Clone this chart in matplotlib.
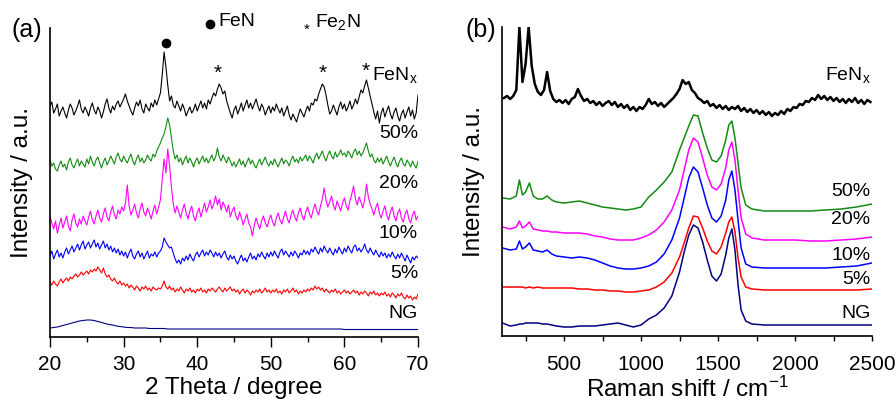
import numpy as np
import matplotlib
matplotlib.use("Agg")
import matplotlib.pyplot as plt
from matplotlib.ticker import MultipleLocator

plt.rcParams['font.family'] = ['Liberation Sans', 'DejaVu Sans']
plt.rcParams['mathtext.fontset'] = 'custom'
plt.rcParams['mathtext.rm'] = 'Liberation Sans'
plt.rcParams['mathtext.it'] = 'Liberation Sans:italic'

# ---------------- (a) XRD data, 2theta 20..70 every 0.25 deg ----------------
xrd_fenx = [231, 235, 224, 228, 233, 221, 226, 230, 224, 219, 227, 233, 229, 222, 226, 231, 237, 228, 224, 230,
            226, 221, 229, 234, 227, 223, 230, 226, 219, 225, 233, 238, 229, 224, 231, 227, 233, 236, 230, 234,
            238, 243, 236, 231, 226, 222, 229, 235, 231, 237, 228, 224, 233, 229, 226, 234, 230, 237, 232, 238,
            244, 262, 285, 270, 252, 236, 241, 232, 229, 236, 231, 226, 233, 228, 221, 226, 230, 224, 227, 233,
            226, 231, 236, 229, 234, 228, 237, 233, 239, 244, 241, 248, 253, 249, 243, 246, 236, 230, 224, 219,
            227, 231, 223, 228, 234, 226, 232, 237, 229, 234, 228, 233, 238, 231, 226, 233, 229, 222, 227, 231,
            224, 230, 226, 233, 228, 224, 229, 221, 226, 231, 222, 217, 223, 219, 215, 222, 228, 224, 220, 226,
            231, 226, 234, 232, 238, 236, 243, 248, 253, 250, 242, 232, 223, 226, 232, 227, 222, 230, 235, 228,
            233, 226, 230, 236, 228, 232, 238, 233, 240, 247, 244, 251, 257, 249, 241, 233, 225, 218, 226, 214,
            224, 229, 220, 226, 231, 223, 218, 225, 229, 221, 216, 223, 227, 219, 225, 230, 221, 227, 218, 224,
            242]

xrd_50 = [177, 171, 174, 168, 166, 172, 176, 170, 173, 167, 175, 179, 172, 169, 174, 178, 171, 176, 173, 170,
          178, 173, 181, 175, 171, 177, 180, 174, 169, 175, 179, 172, 176, 181, 177, 173, 180, 184, 178, 175,
          181, 177, 174, 179, 183, 176, 172, 178, 182, 175, 179, 174, 177, 182, 178, 176, 183, 180, 186, 190,
          194, 199, 203, 210, 219, 212, 199, 186, 178, 182, 175, 179, 172, 177, 181, 174, 179, 175, 170, 176,
          179, 173, 177, 181, 175, 179, 174, 178, 182, 176, 180, 189, 180, 176, 182, 178, 174, 180, 176, 171,
          175, 170, 174, 178, 172, 176, 170, 175, 179, 173, 177, 172, 169, 174, 178, 172, 176, 180, 174, 171,
          176, 172, 178, 174, 170, 175, 179, 173, 177, 175, 171, 177, 181, 175, 178, 174, 180, 176, 179, 182,
          176, 181, 178, 174, 180, 184, 178, 182, 186, 180, 176, 182, 186, 181, 178, 185, 180, 183, 187, 182,
          184, 180, 186, 183, 179, 185, 188, 182, 186, 181, 184, 189, 194, 186, 180, 183, 177, 174, 179, 175,
          179, 173, 177, 181, 175, 171, 176, 180, 174, 170, 176, 179, 173, 171, 177, 174, 170, 176, 172, 169,
          176]

xrd_20 = [121, 114, 108, 116, 104, 112, 119, 109, 115, 121, 111, 106, 117, 123, 114, 110, 118, 113, 121, 116,
          112, 120, 126, 117, 113, 121, 127, 119, 115, 123, 129, 120, 116, 125, 131, 122, 118, 127, 123, 130,
          126, 134, 152, 131, 122, 127, 133, 124, 119, 128, 134, 125, 121, 129, 124, 118, 126, 132, 123, 130,
          137, 158, 178, 164, 188, 171, 150, 133, 124, 131, 125, 119, 127, 133, 124, 118, 126, 131, 121, 116,
          124, 129, 120, 127, 134, 125, 130, 137, 128, 133, 141, 132, 138, 127, 135, 131, 125, 132, 120, 126,
          130, 121, 117, 125, 119, 112, 118, 123, 114, 110, 101, 112, 119, 113, 108, 116, 121, 114, 110, 117,
          122, 115, 111, 119, 124, 117, 113, 120, 126, 118, 114, 122, 127, 120, 116, 124, 129, 121, 117, 125,
          130, 123, 119, 127, 133, 126, 122, 131, 138, 149, 137, 130, 135, 141, 132, 127, 136, 131, 126, 134,
          139, 131, 127, 136, 143, 151, 138, 132, 140, 135, 129, 137, 153, 140, 133, 128, 122, 129, 134, 124,
          119, 126, 131, 122, 117, 125, 130, 121, 116, 124, 128, 119, 115, 123, 127, 118, 114, 122, 126, 117,
          121]

xrd_10 = [81, 86, 78, 83, 87, 80, 84, 79, 85, 89, 83, 87, 91, 85, 89, 93, 87, 92, 96, 88,
          92, 95, 89, 93, 97, 90, 94, 88, 92, 96, 89, 93, 87, 91, 85, 89, 84, 88, 82, 86,
          81, 85, 79, 84, 88, 81, 78, 83, 86, 80, 84, 78, 82, 86, 79, 83, 81, 85, 80, 84,
          86, 90, 99, 95, 92, 89, 90, 84, 78, 74, 77, 73, 79, 76, 81, 77, 83, 79, 76, 82,
          85, 80, 84, 87, 81, 85, 82, 87, 84, 80, 85, 81, 84, 79, 83, 86, 80, 77, 82, 78,
          81, 76, 73, 78, 82, 76, 79, 75, 80, 84, 78, 81, 77, 83, 80, 85, 81, 78, 84, 80,
          85, 81, 86, 82, 79, 85, 88, 82, 86, 83, 80, 85, 81, 86, 83, 79, 84, 82, 87, 83,
          86, 82, 88, 85, 90, 86, 83, 89, 85, 91, 87, 84, 89, 85, 82, 88, 84, 90, 86, 83,
          89, 85, 91, 87, 84, 90, 92, 86, 89, 85, 88, 93, 87, 84, 89, 85, 82, 87, 83, 80,
          85, 81, 84, 79, 83, 80, 85, 81, 78, 83, 79, 84, 80, 76, 82, 78, 74, 80, 77, 81,
          79]

xrd_5 = [55, 52, 56, 53, 51, 55, 58, 54, 57, 59, 56, 60, 58, 61, 63, 60, 62, 65, 62, 64,
         66, 63, 67, 65, 68, 66, 70, 67, 64, 69, 63, 60, 62, 58, 56, 59, 55, 53, 56, 52,
         54, 51, 53, 49, 52, 50, 47, 51, 49, 46, 50, 48, 51, 47, 49, 46, 50, 48, 47, 49,
         48, 51, 56, 50, 48, 51, 47, 49, 45, 48, 46, 50, 47, 44, 48, 46, 49, 45, 47, 44,
         48, 46, 49, 45, 47, 44, 48, 46, 49, 47, 45, 48, 50, 47, 45, 49, 46, 48, 50, 46,
         48, 45, 47, 43, 46, 48, 44, 47, 45, 42, 46, 44, 47, 45, 48, 44, 46, 49, 45, 47,
         44, 47, 45, 48, 44, 46, 43, 47, 45, 48, 44, 46, 49, 45, 47, 43, 46, 44, 47, 45,
         48, 46, 49, 47, 51, 48, 50, 47, 49, 45, 48, 46, 44, 47, 45, 48, 44, 46, 43, 45,
         47, 44, 46, 43, 45, 47, 44, 46, 42, 45, 43, 46, 44, 41, 45, 43, 46, 42, 44, 41,
         44, 42, 45, 41, 43, 40, 44, 42, 39, 43, 41, 44, 40, 38, 42, 39, 41, 37, 40, 38,
         43]

# NG sampled every 0.5 deg
xrd_ng = [9, 9.5, 10, 11, 12, 13, 14, 15, 16, 16.5,
          17, 17, 16.5, 15.5, 14.5, 13.5, 12.5, 12, 11, 10.5,
          10, 9.5, 9.5, 9, 9, 9, 9, 8.5, 8.5, 8.5,
          8.5, 8.5, 8, 8, 8, 8, 8, 8, 8, 8,
          8, 8, 8, 8, 8, 8, 8, 8, 8, 8,
          8, 8, 8, 8, 8, 8, 8, 8, 8, 8,
          8, 8, 8, 8, 8, 8, 8, 8, 8, 8,
          8, 8, 8, 8, 8, 8, 8, 8, 8, 8,
          7.5, 7.5, 7.5, 7.5, 7.5, 7.5, 7.5, 7.5, 7.5, 7.5,
          7.5, 7.5, 7.5, 7.5, 7.5, 7.5, 7.5, 7.5, 7.5, 7.5, 7.5]

xrd_series = [xrd_fenx, xrd_50, xrd_20, xrd_10, xrd_5, xrd_ng]
sample_labels = ['FeN$_\\mathregular{x}$', '50%', '20%', '10%', '5%', 'NG']
colors = ['#000000', '#138a13', '#ff00ff', '#0000ff', '#ff0000', '#000080']
xrd_label_y = [262, 204, 154, 104, 64, 24]

# peak markers (a)
fen_peak = [(35.7, 294)]
fe2n_peaks = [(42.8, 264), (57.1, 264), (62.9, 266)]

# ---------------- (b) Raman data ----------------
# FeNx sampled every 20 cm-1 from 110 to 2490
raman_fenx = [238, 240, 237, 240, 246, 309, 254, 272, 309, 270, 252, 244, 241, 246, 264, 245, 237, 234, 236, 233,
              236, 232, 237, 239, 247, 240, 235, 237, 233, 235, 231, 234, 230, 233, 235, 231, 234, 229, 232, 228,
              231, 226, 229, 225, 229, 227, 231, 237, 232, 234, 230, 233, 229, 232, 235, 238, 242, 247, 256, 252,
              254, 246, 243, 238, 236, 233, 235, 230, 232, 228, 231, 227, 230, 226, 229, 227, 230, 225, 228, 224,
              227, 223, 226, 222, 225, 221, 224, 220, 223, 221, 225, 222, 227, 225, 229, 228, 232, 231, 235, 234,
              238, 236, 241, 237, 240, 236, 239, 235, 238, 234, 237, 233, 237, 234, 238, 233, 236, 232, 236, 234]

raman_x = [100, 150, 190, 210, 230, 250, 275, 300, 330, 360, 390, 420, 450, 500,
           550, 600, 650, 700, 750, 800, 850, 900, 950, 1000, 1050, 1100, 1150,
           1200, 1250, 1280, 1310, 1340, 1370, 1400, 1430, 1460, 1490, 1520, 1550,
           1570, 1590, 1610, 1630, 1650, 1680, 1720, 1800, 1900, 2000, 2100, 2200,
           2300, 2400, 2500]

raman_50 = [138, 137, 140, 156, 141, 144, 153, 140, 137, 137, 140, 136, 134, 133,
            134, 135, 133, 131, 129, 128, 127, 126, 127, 129, 139, 146, 154,
            164, 186, 198, 210, 221, 220, 203, 188, 176, 174, 180, 196,
            211, 215, 198, 173, 148, 131, 127, 125, 125, 125, 125, 126,
            127, 129, 132]

raman_20 = [109, 107, 109, 115, 108, 110, 114, 107, 106, 105, 105, 104, 104, 103,
            103, 103, 102, 100, 99, 97, 96, 96, 96, 98, 101, 106, 114,
            126, 146, 166, 186, 198, 194, 178, 161, 149, 146, 152, 168,
            186, 194, 176, 146, 118, 102, 98, 96, 96, 96, 95, 95,
            96, 97, 99]

raman_10 = [88, 86, 87, 95, 87, 89, 93, 86, 85, 84, 86, 82, 80, 79,
            78, 79, 78, 76, 73, 70, 68, 67, 67, 68, 70, 74, 82,
            96, 118, 138, 158, 169, 164, 148, 131, 118, 114, 120, 136,
            156, 165, 146, 116, 88, 72, 69, 68, 68, 68, 68, 68,
            69, 70, 73]

raman_5 = [49, 49, 49, 49, 49, 48, 49, 48, 49, 48, 48, 48, 48, 48,
           48, 47, 47, 46, 46, 45, 45, 44, 44, 45, 46, 49, 54,
           63, 79, 93, 108, 120, 119, 108, 95, 85, 82, 89, 103,
           114, 119, 104, 78, 59, 49, 47, 46, 46, 46, 46, 46,
           46, 46, 47]

raman_ng = [13, 10, 11, 12, 12, 13, 13, 13, 13, 12, 12, 11, 10, 9,
            9, 10, 10, 10, 11, 12, 13, 11, 9, 11, 17, 21, 28,
            40, 64, 84, 101, 111, 108, 94, 76, 60, 55, 62, 81,
            98, 107, 86, 51, 26, 15, 12, 11, 11, 11, 11, 11,
            11, 11, 11]

raman_series = [raman_50, raman_20, raman_10, raman_5, raman_ng]
raman_label_y = [261, 144, 116, 81, 56, 23]

# ---------------- figure ----------------
W, H = 896, 403
fig = plt.figure(figsize=(W / 100, H / 100), dpi=100)

def px_axes(l, r, b, t):
    return fig.add_axes([l / W, 1 - b / H, (r - l) / W, (b - t) / H])

axa = px_axes(50, 418, 337, 28)
axb = px_axes(502, 872, 336, 27)

for ys, c in zip(xrd_series, colors):
    axa.plot(np.linspace(20, 70, len(ys)), ys, color=c, lw=0.8)
for lab, ly in zip(sample_labels, xrd_label_y):
    axa.text(70, ly, lab, ha='right', va='center', fontsize=14)
for (px, py) in fen_peak:
    axa.plot(px, py, 'o', color='black', ms=6)
for (px, py) in fe2n_peaks:
    axa.text(px, py, '*', ha='center', va='center', fontsize=15)

axa.set_xlim(20, 70)
axa.set_ylim(0, 309)
axa.xaxis.set_major_locator(MultipleLocator(10))
axa.xaxis.set_minor_locator(MultipleLocator(5))
axa.set_xlabel('2 Theta / degree', fontsize=17.5, labelpad=2)
axa.set_ylabel('Intensity / a.u.', fontsize=17.5, labelpad=12)

axb.plot(np.linspace(110, 2490, len(raman_fenx)), raman_fenx, color=colors[0], lw=1.8)
for ys, c in zip(raman_series, colors[1:]):
    axb.plot(raman_x, ys, color=c, lw=1.1)
for lab, ly in zip(sample_labels, raman_label_y):
    axb.text(2490, ly, lab, ha='right', va='center', fontsize=14)

axb.set_xlim(97, 2500)
axb.set_ylim(0, 309)
axb.xaxis.set_minor_locator(MultipleLocator(250))
axb.set_xticks([500, 1000, 1500, 2000, 2500])
axb.set_xlabel('Raman shift / cm$^{-1}$', fontsize=17.5, labelpad=2)
axb.set_ylabel('Intensity / a.u.', fontsize=17.5, labelpad=12)

for ax in (axa, axb):
    ax.spines['top'].set_visible(False)
    ax.spines['right'].set_visible(False)
    ax.set_yticks([])
    for s in ('left', 'bottom'):
        ax.spines[s].set_linewidth(1.2)

axa.tick_params(axis='x', which='major', direction='out', length=7, width=1, labelsize=15, pad=6)
axa.tick_params(axis='x', which='minor', direction='out', length=3.5, width=1)
axb.tick_params(axis='x', which='major', direction='out', length=3.5, width=1, labelsize=15, pad=10)
axb.tick_params(axis='x', which='minor', direction='out', length=3.5, width=1)

# panel letters and legend-like text in panel (a)
fig.text(11 / W, 1 - 30 / H, '(a)', fontsize=18, va='center', ha='left')
fig.text(465 / W, 1 - 30 / H, '(b)', fontsize=18, va='center', ha='left')
fig.text(218 / W, 1 - 22 / H, 'FeN', fontsize=14, va='center', ha='left')
fig.lines.append(plt.Line2D([210 / W], [1 - 24 / H], marker='o', color='black', ms=6,
                            transform=fig.transFigure))
fig.text(307 / W, 1 - 30 / H, '*', fontsize=11, va='center', ha='center')
fig.text(315 / W, 1 - 22 / H, 'Fe$_\\mathregular{2}$N', fontsize=14, va='center', ha='left')

fig.savefig('out.png', dpi=100)
